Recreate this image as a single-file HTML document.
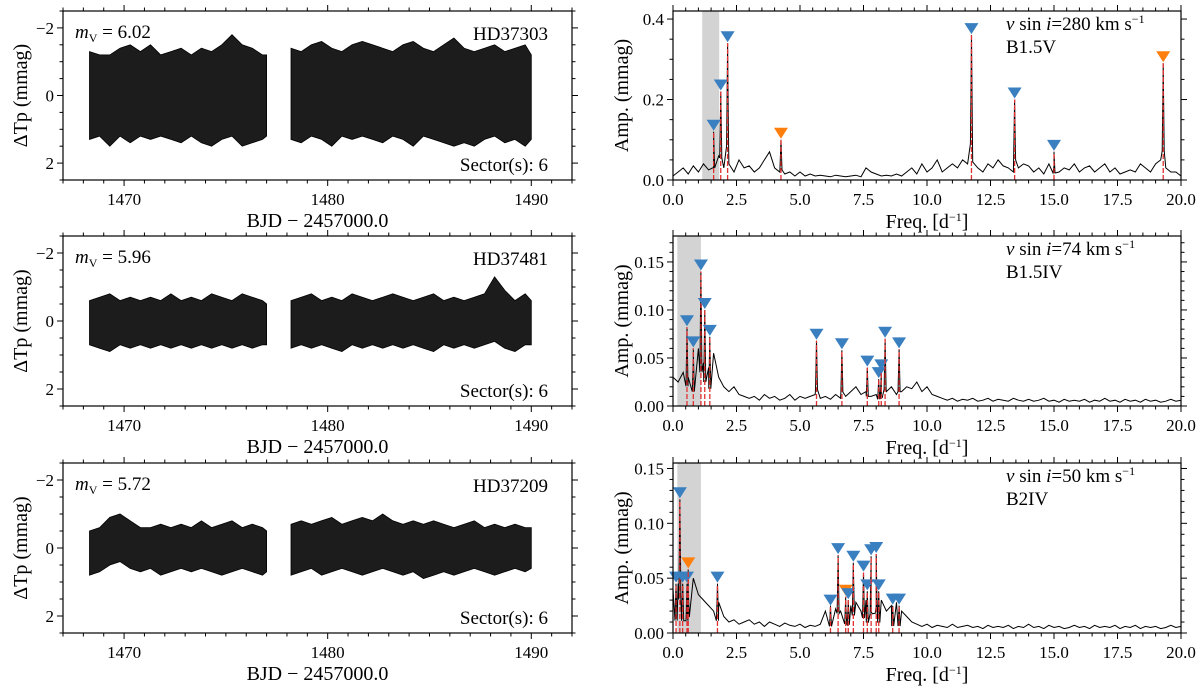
<!DOCTYPE html>
<html><head><meta charset="utf-8"><style>
html,body{margin:0;padding:0;background:#fff;}
svg{display:block;font-family:"Liberation Serif",serif;}
</style></head><body>
<svg id="fig" width="1200" height="688" viewBox="0 0 1200 688" xmlns="http://www.w3.org/2000/svg"></svg>
<script>
// ---- light curve data (binned envelopes) ----
const lcTimes1 = [1468.3,1468.8,1469.3,1469.8,1470.3,1470.8,1471.3,1471.8,1472.3,1472.8,1473.3,1473.8,1474.3,1474.8,1475.3,1475.8,1476.3,1476.8,1477.0];
const lcTimes2 = [1478.2,1478.7,1479.2,1479.7,1480.2,1480.7,1481.2,1481.7,1482.2,1482.7,1483.2,1483.7,1484.2,1484.7,1485.2,1485.7,1486.2,1486.7,1487.2,1487.7,1488.2,1488.7,1489.2,1489.7,1490.0];
const lcUpperA1 = [-1.3,-1.2,-1.2,-1.4,-1.5,-1.3,-1.5,-1.2,-1.3,-1.4,-1.2,-1.4,-1.3,-1.5,-1.8,-1.5,-1.4,-1.2,-1.2];
const lcUpperA2 = [-1.4,-1.3,-1.5,-1.6,-1.4,-1.3,-1.5,-1.6,-1.5,-1.4,-1.3,-1.5,-1.6,-1.4,-1.3,-1.5,-1.7,-1.4,-1.3,-1.4,-1.5,-1.3,-1.4,-1.5,-1.2];
const lcLowerA1 = [1.3,1.2,1.5,1.2,1.4,1.2,1.3,1.2,1.3,1.4,1.2,1.4,1.5,1.3,1.2,1.5,1.4,1.3,1.2];
const lcLowerA2 = [1.3,1.4,1.2,1.3,1.5,1.2,1.3,1.2,1.3,1.4,1.2,1.3,1.5,1.2,1.3,1.4,1.5,1.4,1.5,1.3,1.2,1.4,1.3,1.5,1.3];
const lcUpperB1 = [-0.6,-0.7,-0.8,-0.6,-0.7,-0.6,-0.7,-0.6,-0.8,-0.6,-0.7,-0.6,-0.8,-0.7,-0.6,-0.8,-0.7,-0.6,-0.5];
const lcUpperB2 = [-0.6,-0.7,-0.8,-0.6,-0.7,-0.6,-0.8,-0.7,-0.6,-0.7,-0.8,-0.7,-0.6,-0.7,-0.8,-0.6,-0.7,-0.6,-0.7,-0.8,-1.3,-0.9,-0.6,-0.8,-0.6];
const lcLowerB1 = [0.7,0.8,0.9,0.7,0.8,0.7,0.8,0.7,0.8,0.7,0.8,0.7,0.8,0.7,0.8,0.7,0.8,0.7,0.7];
const lcLowerB2 = [0.8,0.7,0.8,0.7,0.8,0.9,0.7,0.8,0.7,0.8,0.7,0.8,0.7,0.8,0.9,0.7,0.8,0.7,0.8,0.7,0.6,0.8,0.9,0.7,0.7];
const lcUpperC1 = [-0.5,-0.6,-0.9,-1.0,-0.8,-0.6,-0.6,-0.7,-0.6,-0.7,-0.6,-0.8,-0.6,-0.7,-0.8,-0.6,-0.7,-0.6,-0.5];
const lcUpperC2 = [-0.7,-0.8,-0.7,-0.8,-0.9,-0.7,-0.8,-0.9,-0.8,-1.0,-0.8,-0.7,-0.8,-0.7,-0.8,-0.7,-0.6,-0.7,-0.8,-0.6,-0.7,-0.6,-0.7,-0.6,-0.6];
const lcLowerC1 = [0.8,0.7,0.5,0.4,0.6,0.7,0.6,0.8,0.7,0.6,0.7,0.6,0.7,0.8,0.7,0.6,0.7,0.8,0.7];
const lcLowerC2 = [0.8,0.7,0.6,0.8,0.7,0.6,0.7,0.8,0.7,0.6,0.7,0.8,0.7,0.9,0.8,0.7,0.8,0.7,0.6,0.7,0.8,0.7,0.6,0.7,0.6];
const lcTicks = [1470,1480,1490];
const lcYTicks = [-2,0,2];

// ---- amplitude spectra ----
const noiseA = [0.01,0.02,0.03,0.015,0.035,0.02,0.04,0.025,0.03,0.06,
 0.03,0.04,0.02,0.05,0.03,0.035,0.02,0.03,0.05,0.07,
 0.03,0.02,0.015,0.02,0.01,0.02,0.01,0.015,0.01,0.012,
 0.01,0.008,0.012,0.01,0.008,0.01,0.012,0.008,0.03,0.02,
 0.015,0.01,0.012,0.01,0.015,0.01,0.02,0.03,0.015,0.04,
 0.02,0.03,0.05,0.02,0.03,0.04,0.03,0.05,0.04,0.045,
 0.03,0.02,0.04,0.03,0.05,0.035,0.03,0.02,0.03,0.04,
 0.035,0.02,0.03,0.015,0.04,0.035,0.02,0.03,0.025,0.04,
 0.02,0.03,0.035,0.02,0.03,0.04,0.02,0.03,0.015,0.02,
 0.025,0.02,0.04,0.03,0.02,0.04,0.05,0.03,0.02,0.02,0.01];
const noiseB = [0.03,0.025,0.035,0.03,0.05,0.06,0.045,0.04,0.055,0.03,
 0.02,0.015,0.02,0.012,0.01,0.008,0.01,0.006,0.012,0.008,
 0.01,0.006,0.008,0.012,0.006,0.01,0.008,0.01,0.012,0.008,
 0.01,0.007,0.012,0.008,0.01,0.015,0.02,0.012,0.015,0.01,
 0.012,0.01,0.015,0.02,0.012,0.015,0.02,0.018,0.025,0.015,
 0.02,0.012,0.01,0.008,0.006,0.008,0.005,0.007,0.006,0.008,
 0.005,0.006,0.008,0.005,0.007,0.006,0.005,0.008,0.006,0.005,
 0.007,0.005,0.006,0.008,0.005,0.006,0.004,0.007,0.005,0.006,
 0.005,0.007,0.004,0.006,0.005,0.008,0.005,0.006,0.004,0.007,
 0.005,0.006,0.004,0.007,0.005,0.006,0.004,0.005,0.007,0.005,0.006];
const noiseC = [0.04,0.045,0.03,0.04,0.05,0.035,0.03,0.025,0.02,0.028,
 0.015,0.01,0.012,0.008,0.01,0.012,0.008,0.01,0.006,0.01,
 0.008,0.006,0.009,0.007,0.006,0.008,0.005,0.007,0.006,0.008,
 0.02,0.025,0.022,0.02,0.03,0.025,0.028,0.02,0.03,0.02,
 0.025,0.03,0.02,0.025,0.028,0.02,0.015,0.01,0.008,0.006,
 0.008,0.005,0.007,0.006,0.005,0.008,0.005,0.006,0.007,0.005,
 0.006,0.004,0.007,0.005,0.006,0.005,0.007,0.004,0.006,0.005,
 0.008,0.005,0.006,0.004,0.007,0.005,0.006,0.004,0.005,0.007,
 0.005,0.006,0.004,0.007,0.005,0.006,0.005,0.007,0.004,0.006,
 0.005,0.007,0.004,0.006,0.005,0.006,0.004,0.005,0.007,0.005,0.006];
const peakFreqA = [1.6,1.88,2.15,4.25,11.75,13.45,15.0,19.3];
const peakAmpA  = [0.12,0.22,0.34,0.10,0.36,0.20,0.07,0.29];
const peakColA  = ['b','b','b','o','b','b','b','o'];
const peakFreqB = [0.55,0.8,1.1,1.25,1.45,5.65,6.65,7.65,8.1,8.2,8.35,8.9];
const peakAmpB  = [0.082,0.06,0.14,0.10,0.072,0.068,0.058,0.04,0.028,0.036,0.07,0.059];
const peakColB  = ['b','b','b','b','b','b','b','b','b','b','b','b'];
const peakFreqC = [0.12,0.27,0.38,0.55,0.6,1.75,6.2,6.5,6.8,6.9,7.1,7.5,7.65,7.8,8.0,8.1,8.65,8.9];
const peakAmpC  = [0.045,0.122,0.045,0.045,0.058,0.045,0.024,0.071,0.033,0.03,0.064,0.055,0.038,0.07,0.072,0.038,0.025,0.025];
const peakColC  = ['b','b','b','b','o','b','b','b','o','b','b','b','b','b','b','b','b','b'];
const freqTicks = ['0.0','2.5','5.0','7.5','10.0','12.5','15.0','17.5','20.0'];
const ampTicksA = ['0.0','0.2','0.4'];
const ampTicksB = ['0.00','0.05','0.10','0.15'];

const NS='http://www.w3.org/2000/svg';
const svg=document.getElementById('fig');
function mk(tag,attrs,parent){const e=document.createElementNS(NS,tag);for(const k in attrs)e.setAttribute(k,attrs[k]);(parent||svg).appendChild(e);return e;}
function txt(x,y,s,size,anchor,parent){const t=mk('text',{x:x,y:y,'font-size':size,'text-anchor':anchor||'middle',fill:'#000'},parent);t.innerHTML=s;return t;}

const rows=[{y0:11,y1:180},{y0:236,y1:406},{y0:463,y1:633}];
const LX0=63,LX1=572,RX0=673,RX1=1181;

function lightPanel(r,up1,up2,lo1,lo2,mv,star){
  const g=mk('g',{});
  
  
  const xs=t=>LX0+(t-1467)/(1492-1467)*(LX1-LX0);
  const ys=v=>r.y0+(v+2.5)/5*(r.y1-r.y0);
  [[lcTimes1,up1,lo1],[lcTimes2,up2,lo2]].forEach((s,si)=>{
    let d='';
    s[0].forEach((t,i)=>{d+=(i?'L':'M')+xs(t).toFixed(1)+','+ys(s[1][i]).toFixed(1);});
    for(let i=s[0].length-1;i>=0;i--){d+='L'+xs(s[0][i]).toFixed(1)+','+ys(s[2][i]).toFixed(1);}
    const p=mk('path',{d:d+'Z',fill:'#1c1c1c',stroke:'#000','stroke-width':0.8},g);
    
    
  });
  mk('rect',{x:LX0,y:r.y0,width:LX1-LX0,height:r.y1-r.y0,fill:'none',stroke:'#000','stroke-width':1.2},g);
  for(let t=1467;t<=1492;t++){const X=xs(t);const maj=t%10==0;
    mk('line',{x1:X,x2:X,y1:r.y1,y2:r.y1+(maj?6:3.5),stroke:'#000','stroke-width':1},g);
    mk('line',{x1:X,x2:X,y1:r.y0,y2:r.y0-(maj?6:3.5),stroke:'#000','stroke-width':1},g);}
  for(let v=-2.5;v<=2.5;v+=0.5){const Y=ys(v);const maj=Math.abs(v%2)<1e-6;
    mk('line',{x1:LX0,x2:LX0-(maj?6:3.5),y1:Y,y2:Y,stroke:'#000','stroke-width':1},g);
    mk('line',{x1:LX1,x2:LX1+(maj?6:3.5),y1:Y,y2:Y,stroke:'#000','stroke-width':1},g);}
  lcTicks.forEach(t=>{const e=txt(xs(t),r.y1+25,t,17,'middle',g);});
  lcYTicks.forEach(v=>{const e=txt(LX0-9,ys(v)+6,v<0?'−'+(-v):v,17,'end',g);});
  const a=txt(LX0+12,r.y0+27,'<tspan font-style="italic">m</tspan><tspan font-size="12" dy="4">V</tspan><tspan dy="-4"> = '+mv+'</tspan>',19,'start',g);
  
  const b=txt(LX1-24,r.y0+29,star,19,'end',g);
  
  const c=txt(LX1-24,r.y1-9,'Sector(s): 6',19,'end',g);
  
  const xl=txt((LX0+LX1)/2,r.y1+47,'BJD − 2457000.0',20,'middle',g);
  
  const yl=txt(0,0,'ΔTp (mmag)',20,'middle',g);
  yl.setAttribute('transform','translate(27,'+((r.y0+r.y1)/2)+') rotate(-90)');
  
}

function specPanel(r,noise,pf,pa,pc,ymax,ticks,minor,shade,vsini,sp,id){
  const g=mk('g',{});
  
  
  const xs=f=>RX0+f/20*(RX1-RX0);
  const ys=v=>r.y1-v/ymax*(r.y1-r.y0);
  const sh=mk('rect',{x:xs(shade[0]),y:r.y0,width:xs(shade[1])-xs(shade[0]),height:r.y1-r.y0,fill:'#d3d3d3'},g);
  
  let pts=noise.map((v,i)=>[i*0.2,v]);
  pf.forEach((f,i)=>{pts.push([f-0.04,pa[i]*0.25]);pts.push([f,pa[i]]);pts.push([f+0.04,pa[i]*0.25]);});
  pts.sort((a,b)=>a[0]-b[0]);
  const line=mk('path',{d:pts.map((p,i)=>(i?'L':'M')+xs(p[0]).toFixed(1)+','+ys(p[1]).toFixed(1)).join(''),fill:'none',stroke:'#000','stroke-width':1},g);
  
  pf.forEach((f,i)=>{
    const X=xs(f),Y=ys(pa[i]);
    const rl=mk('line',{x1:X,x2:X,y1:r.y1,y2:Y,stroke:'#e03030','stroke-width':1.3,'stroke-dasharray':'5,2'},g);
    
    const tri=mk('path',{d:'M'+(X-7)+','+(Y-12)+'L'+(X+7)+','+(Y-12)+'L'+X+','+(Y-1)+'Z',fill:pc[i]=='o'?'#ff7f0e':'#3a80c0'},g);
    
  });
  mk('rect',{x:RX0,y:r.y0,width:RX1-RX0,height:r.y1-r.y0,fill:'none',stroke:'#000','stroke-width':1.2},g);
  for(let f=0;f<=20.001;f+=0.5){const X=xs(f);const maj=Math.abs((f/2.5)-Math.round(f/2.5))<1e-6;
    mk('line',{x1:X,x2:X,y1:r.y1,y2:r.y1+(maj?6:3.5),stroke:'#000','stroke-width':1},g);
    mk('line',{x1:X,x2:X,y1:r.y0,y2:r.y0-(maj?6:3.5),stroke:'#000','stroke-width':1},g);}
  for(let v=0;v<=ymax+1e-9;v+=minor){const Y=ys(v);
    const maj=ticks.some(t=>Math.abs(parseFloat(t)-v)<1e-6);
    mk('line',{x1:RX0,x2:RX0-(maj?6:3.5),y1:Y,y2:Y,stroke:'#000','stroke-width':1},g);
    mk('line',{x1:RX1,x2:RX1+(maj?6:3.5),y1:Y,y2:Y,stroke:'#000','stroke-width':1},g);}
  freqTicks.forEach(t=>{const e=txt(xs(parseFloat(t)),r.y1+25,t,17,'middle',g);});
  ticks.forEach(t=>{const e=txt(RX0-9,ys(parseFloat(t))+6,t,17,'end',g);});
  const a=txt(1006,r.y0+19,'<tspan font-style="italic">v</tspan> sin <tspan font-style="italic">i</tspan>=' + vsini + ' km s<tspan font-size="12" dy="-7">−1</tspan>',19,'start',g);
  
  const b=txt(1006,r.y0+42,sp,19,'start',g);
  
  const xl=txt((RX0+RX1)/2,r.y1+48,'Freq. [d<tspan font-size="12" dy="-7">−1</tspan><tspan dy="7">]</tspan>',20,'middle',g);
  
  const yl=txt(0,0,'Amp. (mmag)',20,'middle',g);
  yl.setAttribute('transform','translate(628,'+((r.y0+r.y1)/2)+') rotate(-90)');
  
}

lightPanel(rows[0],lcUpperA1,lcUpperA2,lcLowerA1,lcLowerA2,'6.02','HD37303');
lightPanel(rows[1],lcUpperB1,lcUpperB2,lcLowerB1,lcLowerB2,'5.96','HD37481');
lightPanel(rows[2],lcUpperC1,lcUpperC2,lcLowerC1,lcLowerC2,'5.72','HD37209');
specPanel(rows[0],noiseA,peakFreqA,peakAmpA,peakColA,0.42,ampTicksA,0.05,[1.15,1.82],'280','B1.5V','hd37303');
specPanel(rows[1],noiseB,peakFreqB,peakAmpB,peakColB,0.177,ampTicksB,0.01,[0.17,1.1],'74','B1.5IV','hd37481');
specPanel(rows[2],noiseC,peakFreqC,peakAmpC,peakColC,0.155,ampTicksB,0.01,[0.17,1.1],'50','B2IV','hd37209');
</script>
</body></html>
